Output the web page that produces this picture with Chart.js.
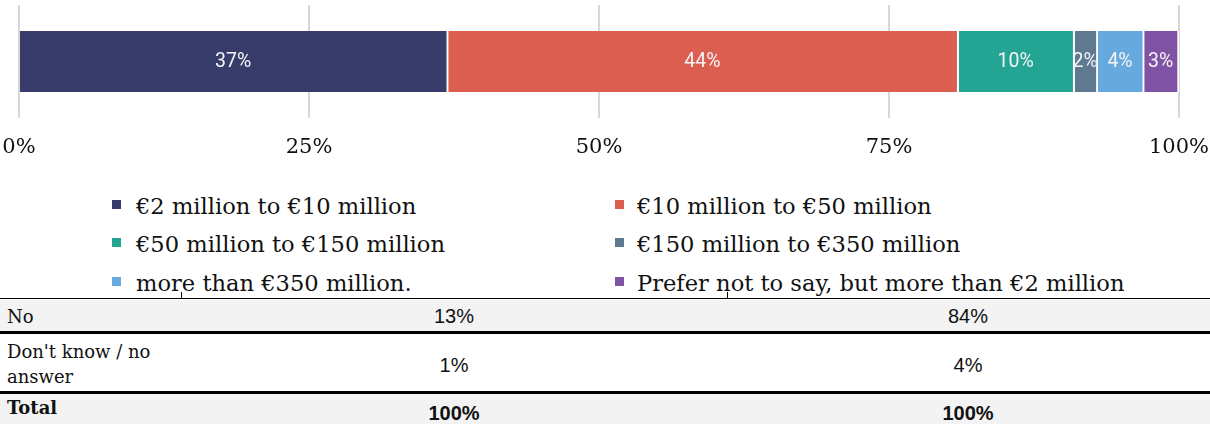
<!DOCTYPE html>
<html>
<head>
<meta charset="utf-8">
<script src="https://cdn.jsdelivr.net/npm/chart.js@4"></script>
<style>
  html, body { margin: 0; padding: 0; background: #fff; }
  body { width: 1210px; height: 424px; position: relative; overflow: hidden; }
  #chartBox { position: absolute; left: 0; top: 0; width: 1210px; height: 178px; }
  .legend-item { position: absolute; height: 38px; font: 22.6px/38px "DejaVu Serif", serif; color: #111; white-space: nowrap; }
  .legend-item .swatch { position: absolute; left: 0; top: 13px; width: 9px; height: 9px; }
  .legend-item .txt { position: absolute; top: 0; }
  .rule { position: absolute; left: 0; width: 1210px; background: #000; }
  .band { position: absolute; left: 0; width: 1210px; background: #f3f3f3; }
  .stub { position: absolute; width: 1px; top: 292px; height: 7px; background: #000; }
  .cell-label { position: absolute; left: 7px; font: 18px/25px "DejaVu Serif", serif; color: #111; }
  .cell-num { position: absolute; width: 200px; margin-left: -100px; text-align: center; font: 20px/25px "Liberation Sans", Arial, sans-serif; color: #111; }
  .bold { font-weight: bold; }
</style>
</head>
<body>
<div id="chartBox"><canvas id="turnoverChart"></canvas></div>
<div id="legend"></div>
<div id="table"></div>

<script>
// turnover bands, one stacked bar
const categories = ['Respondents'];
const bandLabels = [
  '€2 million to €10 million',
  '€10 million to €50 million',
  '€50 million to €150 million',
  '€150 million to €350 million',
  'more than €350 million.',
  'Prefer not to say, but more than €2 million'
];
const bandShares = [37, 44, 10, 2, 4, 3];
const bandColors = ['#383c6a', '#dc5e50', '#24a493', '#5e7990', '#66a9df', '#7f52a3'];
const xTickValues = [0, 25, 50, 75, 100];

// table rows under the chart
const tableRows = ['No', "Don't know / no answer", 'Total'];
const tableColA = ['13%', '1%', '100%'];
const tableColB = ['84%', '4%', '100%'];

// white percentage text in the middle of each segment, clipped to it
const segmentLabels = {
  id: 'segmentLabels',
  afterDatasetsDraw(chart) {
    const ctx = chart.ctx;
    chart.data.datasets.forEach((ds, i) => {
      const meta = chart.getDatasetMeta(i);
      meta.data.forEach((bar, j) => {
        const { x, y, base, height } = bar.getProps(['x', 'y', 'base', 'height'], true);
        const left = Math.min(x, base);
        const w = Math.abs(x - base) - 2;
        ctx.save();
        ctx.beginPath();
        ctx.rect(left, y - height / 2, w, height);
        ctx.clip();
        ctx.fillStyle = '#f4f4f8';
        ctx.font = '19.5px Roboto';
        ctx.textAlign = 'center';
        ctx.textBaseline = 'middle';
        ctx.fillText(ds.data[j] + '%', left + w / 2, y + 1);
        ctx.restore();
      });
    });
  }
};

function renderChart() {
  const ctx = document.getElementById('turnoverChart').getContext('2d');
  return new Chart(ctx, {
    type: 'bar',
    data: {
      labels: categories,
      datasets: bandLabels.map((label, i) => ({
        label,
        data: [bandShares[i]],
        backgroundColor: bandColors[i],
        borderColor: '#fff',
        borderWidth: { top: 0, right: 2, bottom: 0, left: 0 },
        borderSkipped: false,
        barThickness: 61
      }))
    },
    options: {
      indexAxis: 'y',
      responsive: true,
      maintainAspectRatio: false,
      animation: false,
      layout: { padding: { left: 19, right: 31, top: 5, bottom: 0 } },
      scales: {
        x: {
          stacked: true,
          min: 0,
          max: 100,
          afterBuildTicks: (axis) => { axis.ticks = xTickValues.map(v => ({ value: v })); },
          border: { display: false },
          grid: { color: '#d7d7d7', lineWidth: 2, drawTicks: false },
          ticks: {
            padding: 0,
            color: '#111',
            font: { family: '"DejaVu Serif"', size: 21, lineHeight: 2.86 },
            callback: (v) => v + '%'
          }
        },
        y: { stacked: true, display: false }
      },
      plugins: {
        legend: { display: false },
        tooltip: { enabled: false }
      }
    },
    plugins: [segmentLabels]
  });
}

function renderLegend() {
  const box = document.getElementById('legend');
  const cols = [{ swatch: 112, text: 136 }, { swatch: 615, text: 637 }];
  bandLabels.forEach((label, i) => {
    const col = cols[i % 2];
    const row = Math.floor(i / 2);
    const item = document.createElement('div');
    item.className = 'legend-item';
    item.style.left = col.swatch + 'px';
    item.style.top = (186.5 + row * 38.5) + 'px';
    item.innerHTML = `<span class="swatch" style="background:${bandColors[i]}"></span>` +
      `<span class="txt" style="left:${col.text - col.swatch}px">${label}</span>`;
    box.appendChild(item);
  });
}

function renderTable() {
  const box = document.getElementById('table');
  let html = '';
  // shaded rows
  html += '<div class="band" style="top:300px;height:31px"></div>';
  html += '<div class="band" style="top:394px;height:30px"></div>';
  // rules
  html += '<div class="rule" style="top:298px;height:1px"></div>';
  html += '<div class="rule" style="top:331px;height:3px"></div>';
  html += '<div class="rule" style="top:391px;height:3px"></div>';
  html += '<div class="stub" style="left:181px"></div><div class="stub" style="left:727px"></div>';

  const labelTops = [304, 339, 395];
  const numTops = [303.6, 352.6, 400.6];
  const colACenter = 454;
  const colBCenter = 968;
  tableRows.forEach((name, i) => {
    const bold = name === 'Total' ? ' bold' : '';
    const text = name === "Don't know / no answer" ? "Don't know / no<br>answer" : name;
    html += `<div class="cell-label${bold}" style="top:${labelTops[i]}px">${text}</div>`;
    html += `<div class="cell-num${bold}" style="top:${numTops[i]}px;left:${colACenter}px">${tableColA[i]}</div>`;
    html += `<div class="cell-num${bold}" style="top:${numTops[i]}px;left:${colBCenter}px">${tableColB[i]}</div>`;
  });
  box.innerHTML = html;
}

renderChart();
renderLegend();
renderTable();
</script>
</body>
</html>
